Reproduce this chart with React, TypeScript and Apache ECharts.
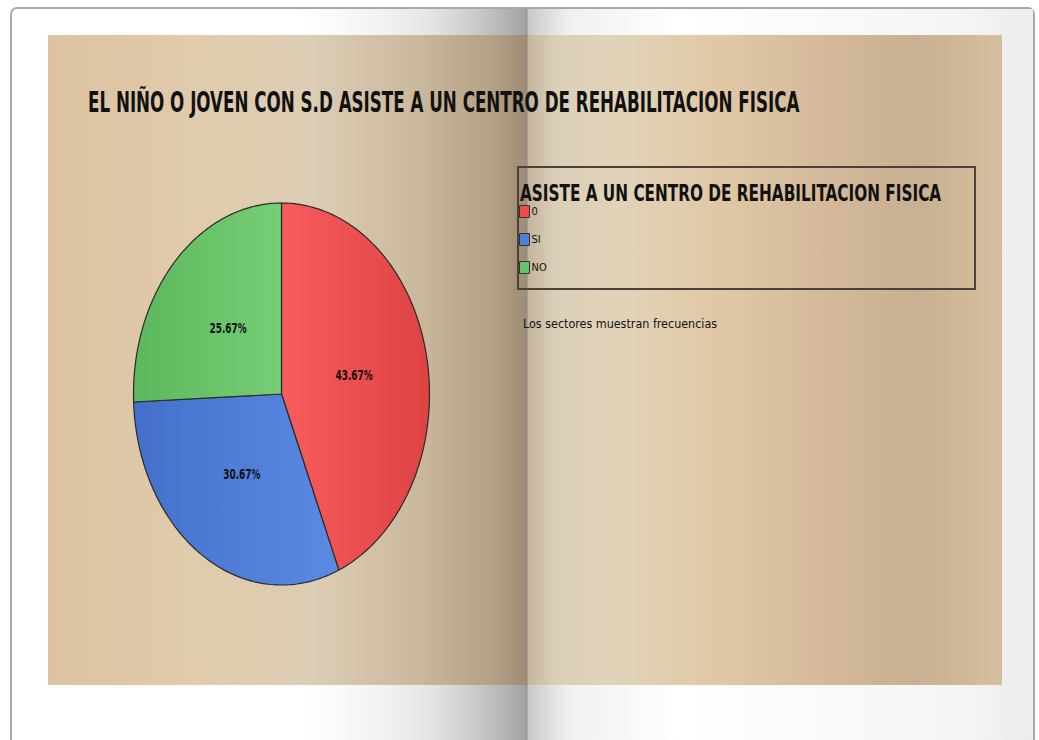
import React, { useEffect, useRef } from 'react';
import * as echarts from 'echarts';

const categories = ['0', 'SI', 'NO'];
const counts = [131, 92, 77];
const sliceColors = ['#ee4b4b', '#4f7fd8', '#66c466'];
const sliceGradients = [
  ['#f85c5c', '#de4242'],
  ['#4470cc', '#5a8ae2'],
  ['#5cb85c', '#76ce76'],
];
const chartTitle = 'EL NIÑO O JOVEN CON S.D ASISTE A UN CENTRO DE REHABILITACION FISICA';
const legendTitle = 'ASISTE A UN CENTRO DE REHABILITACION FISICA';
const footnote = 'Los sectores muestran frecuencias';

const CX = 281.5;
const CY = 394;
const RX = 148;
const RY = 191;
const NARROW = '"Liberation Sans Narrow", "DejaVu Sans Condensed", "Arial Narrow", sans-serif';

export default function App() {
  const ref = useRef<HTMLDivElement>(null);
  useEffect(() => {
    const chart = echarts.init(ref.current!, null, { renderer: 'svg' });
    const total = counts.reduce((a, b) => a + b, 0);
    const series = categories.map((name, i) => ({
      type: 'custom',
      name,
      coordinateSystem: 'none',
      itemStyle: { color: sliceColors[i] },
      data: [[counts[i]]],
      z: 5,
      renderItem: (_params: any, api: any) => {
        const before = counts.slice(0, i).reduce((a, b) => a + b, 0);
        const v = api.value(0);
        const a0 = (before / total) * Math.PI * 2;
        const a1 = a0 + (v / total) * Math.PI * 2;
        const pts: number[][] = [[CX, CY]];
        const steps = Math.max(8, Math.ceil((a1 - a0) / (Math.PI / 180)));
        for (let k = 0; k <= steps; k++) {
          const t = a0 + ((a1 - a0) * k) / steps;
          pts.push([CX + RX * Math.sin(t), CY - RY * Math.cos(t)]);
        }
        const mid = (a0 + a1) / 2;
        const pct = ((v / total) * 100).toFixed(2) + '%';
        return {
          type: 'group',
          children: [
            {
              type: 'polygon',
              shape: { points: pts },
              style: {
                fill: new echarts.graphic.LinearGradient(0, 0, 1, 0, [
                  { offset: 0, color: sliceGradients[i][0] },
                  { offset: 1, color: sliceGradients[i][1] },
                ]),
                stroke: '#2a2a2a',
                lineWidth: 1.2,
                lineJoin: 'round',
              },
            },
            {
              type: 'text',
              x: CX + RX * 0.5 * Math.sin(mid),
              y: CY - RY * 0.5 * Math.cos(mid),
              scaleY: 1.3,
              scaleX: 0.9,
              style: {
                text: pct,
                fill: '#111',
                font: 'bold 11px ' + NARROW,
                align: 'center',
                verticalAlign: 'middle',
              },
            },
          ],
        };
      },
    }));

    const grad = (stops: [number, string][]) =>
      new echarts.graphic.LinearGradient(0, 0, 1, 0, stops.map(([offset, color]) => ({ offset, color })));

    chart.setOption({
      animation: false,
      backgroundColor: '#ffffff',
      legend: {
        orient: 'vertical',
        left: 519,
        top: 205,
        itemWidth: 10,
        itemHeight: 12,
        itemGap: 15,
        icon: 'rect',
        padding: 0,
        data: categories,
        itemStyle: { borderColor: '#333', borderWidth: 1 },
        textStyle: { fontSize: 11, fontFamily: NARROW, color: '#111', padding: [0, 0, 0, -3] },
      },
      graphic: [
        {
          type: 'rect',
          z: -10,
          shape: { x: 11, y: 8, width: 1023, height: 745, r: 6 },
          style: { fill: '#ffffff', stroke: '#a8a8a8', lineWidth: 2 },
        },
        {
          type: 'rect',
          z: -9,
          shape: { x: 12, y: 9, width: 515, height: 740 },
          style: {
            fill: grad([
              [0, 'rgba(255,255,255,0)'],
              [0.55, 'rgba(235,235,235,0)'],
              [0.8, 'rgba(215,215,215,0.6)'],
              [0.95, 'rgba(175,175,175,0.9)'],
              [1, 'rgba(160,160,160,1)'],
            ]),
          },
        },
        {
          type: 'rect',
          z: -9,
          shape: { x: 527, y: 9, width: 506, height: 740 },
          style: {
            fill: grad([
              [0, 'rgba(200,200,200,1)'],
              [0.08, 'rgba(240,240,240,1)'],
              [0.3, 'rgba(255,255,255,1)'],
              [0.85, 'rgba(245,245,245,1)'],
              [1, 'rgba(236,236,236,1)'],
            ]),
          },
        },
        {
          type: 'rect',
          z: -8,
          shape: { x: 48, y: 35, width: 479, height: 650 },
          style: {
            fill: grad([
              [0, '#dcc2a0'],
              [0.3, '#e0cbab'],
              [0.55, '#dccdb4'],
              [0.75, '#cdbba0'],
              [0.92, '#b6a286'],
              [1, '#9e8c74'],
            ]),
          },
        },
        {
          type: 'rect',
          z: -8,
          shape: { x: 527, y: 35, width: 475, height: 650 },
          style: {
            fill: grad([
              [0, '#c4b49c'],
              [0.06, '#dccfb8'],
              [0.2, '#e2d3b8'],
              [0.4, '#e0c8a6'],
              [0.65, '#d2b898'],
              [0.82, '#c8b092'],
              [1, '#d6bf9e'],
            ]),
          },
        },
        {
          type: 'line',
          z: -7,
          shape: { x1: 527, y1: 9, x2: 527, y2: 740 },
          style: { stroke: '#8c8c8c', lineWidth: 1 },
        },
        {
          type: 'text',
          x: 88,
          y: 103,
          scaleX: 0.885,
          scaleY: 1.35,
          style: {
            text: chartTitle,
            fill: '#111',
            font: 'bold 21px ' + NARROW,
            verticalAlign: 'middle',
          },
        },
        {
          type: 'rect',
          shape: { x: 518, y: 167, width: 457, height: 122 },
          style: { fill: 'rgba(0,0,0,0)', stroke: '#4a4238', lineWidth: 2 },
        },
        {
          type: 'text',
          x: 520,
          y: 194,
          scaleY: 1.3,
          style: {
            text: legendTitle,
            fill: '#111',
            font: 'bold 17px ' + NARROW,
            verticalAlign: 'middle',
          },
        },
        {
          type: 'text',
          x: 523,
          y: 324,
          scaleX: 1.13,
          scaleY: 1.1,
          style: {
            text: footnote,
            fill: '#111',
            font: '11px ' + NARROW,
            verticalAlign: 'middle',
          },
        },
      ],
      series,
    });
    return () => chart.dispose();
  }, []);
  return <div ref={ref} style={{ position: 'fixed', left: 0, top: 0, width: 1039, height: 740 }} />;
}
